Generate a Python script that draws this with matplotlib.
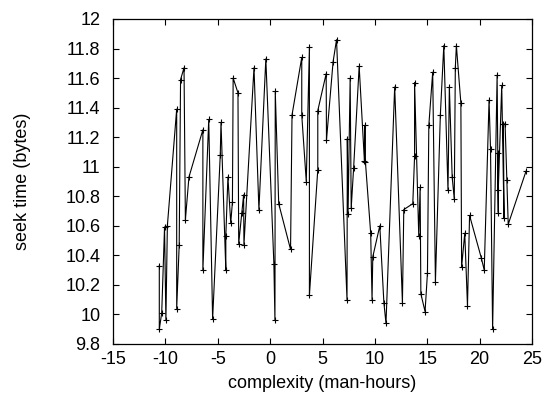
import matplotlib
matplotlib.use("Agg")
import matplotlib.pyplot as plt

plt.rcParams['font.family'] = ['Liberation Sans', 'DejaVu Sans']

# points in drawing order (complexity, seek time)
complexity = [-10.58, -10.58, -10.35, -10.08, -9.95, -9.81, -8.92, -8.92, -8.68, -8.55,
              -8.22, -8.09, -7.75, -6.42, -6.42, -5.86, -5.49, -4.76, -4.69, -4.23,
              -4.23, -4.03, -3.76, -3.60, -3.53, -3.07, -3.00, -2.70, -2.53, -2.50,
              -1.54, -1.07, -0.41, 0.36, 0.46, 0.49, 0.82, 1.95, 2.09, 3.02,
              3.02, 3.45, 3.75, 3.75, 4.55, 4.55, 5.35, 5.38, 6.01, 6.34,
              7.34, 7.37, 7.44, 7.64, 7.74, 7.97, 8.50, 9.00, 9.05, 9.10,
              9.60, 9.73, 9.80, 10.47, 10.86, 11.06, 11.89, 12.63, 12.76, 13.62,
              13.79, 13.79, 14.19, 14.32, 14.39, 14.79, 15.02, 15.15, 15.52, 15.78,
              16.25, 16.58, 16.98, 17.11, 17.38, 17.58, 17.68, 17.78, 18.21, 18.28,
              18.58, 18.84, 19.04, 20.17, 20.44, 20.90, 21.04, 21.24, 21.67, 21.78,
              21.74, 21.78, 22.11, 22.33, 22.27, 22.43, 22.60, 22.73, 24.43]
seek_time = [10.33, 9.90, 10.01, 10.59, 9.96, 10.60, 11.39, 10.04, 10.47, 11.59,
             11.67, 10.64, 10.93, 11.25, 10.30, 11.32, 9.97, 11.08, 11.30, 10.30,
             10.53, 10.93, 10.62, 10.76, 11.60, 11.50, 10.48, 10.69, 10.81, 10.47,
             11.67, 10.71, 11.73, 10.34, 9.96, 11.51, 10.75, 10.44, 11.35, 11.74,
             11.35, 10.90, 11.81, 10.13, 10.98, 11.38, 11.63, 11.18, 11.71, 11.86,
             10.10, 11.19, 10.68, 11.60, 10.72, 10.99, 11.68, 11.04, 11.28, 11.03,
             10.55, 10.10, 10.39, 10.60, 10.08, 9.94, 11.54, 10.08, 10.71, 10.75,
             11.07, 11.57, 10.53, 10.86, 10.14, 10.02, 10.28, 11.28, 11.64, 10.22,
             11.35, 11.82, 10.84, 11.54, 10.93, 10.78, 11.67, 11.82, 11.43, 10.32,
             10.55, 10.06, 10.67, 10.38, 10.30, 11.45, 11.12, 9.90, 11.62, 10.69,
             11.09, 10.84, 11.55, 10.65, 11.29, 11.29, 10.91, 10.61, 10.97]

xticks = [-15, -10, -5, 0, 5, 10, 15, 20, 25]
yticks = [9.8, 10, 10.2, 10.4, 10.6, 10.8, 11, 11.2, 11.4, 11.6, 11.8, 12]
ytick_labels = ['9.8', '10', '10.2', '10.4', '10.6', '10.8', '11', '11.2', '11.4', '11.6', '11.8', '12']

fig = plt.figure(figsize=(5.52, 3.98), dpi=100)
# axes box: left 113px, right 532px, top 19px, bottom 344px
ax = fig.add_axes([113 / 552, 1 - 344 / 398, 419 / 552, 325 / 398])

ax.plot(complexity, seek_time, color='black', lw=0.8, marker='+', ms=5, mew=0.8)

ax.set_xlim(-15, 25)
ax.set_ylim(9.8, 12)
ax.set_xticks(xticks)
ax.set_xticklabels([str(t) for t in xticks])
ax.set_yticks(yticks)
ax.set_yticklabels(ytick_labels)
ax.tick_params(direction='in', top=True, right=True, labelsize=13, length=4, width=0.8)
ax.tick_params(axis='y', pad=9)
ax.tick_params(axis='x', pad=5)
for s in ax.spines.values():
    s.set_linewidth(0.9)

ax.set_xlabel('complexity (man-hours)', fontsize=13, labelpad=5)
ax.set_ylabel('seek time (bytes)', fontsize=13, labelpad=25)

fig.savefig('out.png', dpi=100)
